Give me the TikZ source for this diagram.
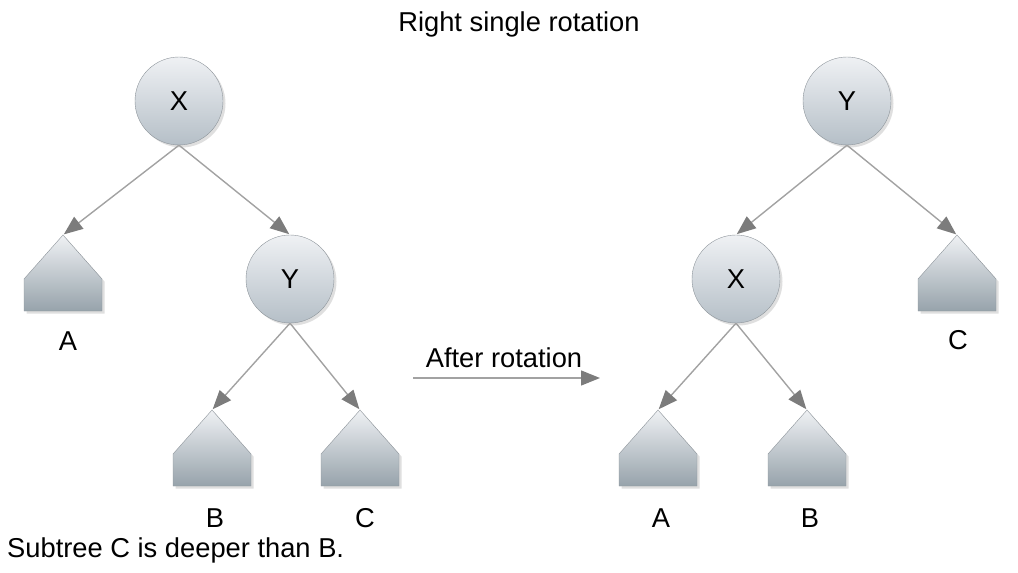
\documentclass[tikz,border=0pt]{standalone}
\usepackage{fontspec}
\setmainfont{Liberation Sans}
\usetikzlibrary{shadows,arrows.meta}

\definecolor{paleTop}{HTML}{EFF1F4}
\definecolor{knotBottom}{HTML}{B5BFC7}
\definecolor{houseBottom}{HTML}{97A3AB}
\definecolor{rim}{HTML}{8E959B}
\definecolor{wire}{HTML}{A2A2A2}
\definecolor{tipgray}{HTML}{7C7C7C}

\tikzset{
    knot/.style={draw=rim, thin, circle, minimum size=88pt, inner sep=0pt,
        top color=paleTop, bottom color=knotBottom,
        drop shadow={opacity=0.25, shadow xshift=2.5pt, shadow yshift=-2.5pt}},
    house/.style={draw=rim, thin, top color=paleTop, bottom color=houseBottom,
        drop shadow={opacity=0.25, shadow xshift=2.5pt, shadow yshift=-2.5pt}},
    link/.style={draw=wire, line width=1.4pt,
        -{Triangle[length=19pt, width=15pt, color=tipgray, fill=tipgray]}, shorten >=1pt},
}

% subtree drawn as a little house, named by its apex
\newcommand\subtree[3]{%
    \shade[house] (#2,#3) -- ++(-39,44) -- ++(0,32) -- ++(78,0) -- ++(0,-32) -- cycle;
    \coordinate (#1) at (#2,#3);
}

\begin{document}
\begin{tikzpicture}[x=1pt, y=-1pt, font=\fontsize{27.3}{31}\selectfont]
    \useasboundingbox (0,0) rectangle (1018,573);

    % Title
    \node at (519,24) (title) {Right single rotation};

    % Nodes for the left tree
    \node at (179,101) (lX) [knot] {X};
    \node at (290,279) (lY) [knot] {Y};
    \subtree{lA}{63}{235}
    \subtree{lB}{212}{410}
    \subtree{lC}{360}{410}
    \node at (68,341) (labLA) {A};
    \node at (215,518) (labLB) {B};
    \node at (365,518) (labLC) {C};

    % Nodes for the right tree
    \node at (847,101) (rY) [knot] {Y};
    \node at (736,279) (rX) [knot] {X};
    \subtree{rA}{658}{410}
    \subtree{rB}{807}{410}
    \subtree{rC}{957}{235}
    \node at (661,518) (labRA) {A};
    \node at (810,518) (labRB) {B};
    \node at (958,340) (labRC) {C};

    % Rotation arrow
    \coordinate (from) at (413,378);
    \coordinate (to) at (601,378);
    \node at (504,358) (after) {After rotation};
    \draw[link] (from) -- (to);

    % Note
    \node at (7,550) (note) [anchor=west, inner sep=0pt] {Subtree C is deeper than B.};

    % Arrows for the left tree
    \draw[link] (lX.south) -- (lA);
    \draw[link] (lX.south) -- (lY.north);
    \draw[link] (lY.south) -- (lB);
    \draw[link] (lY.south) -- (lC);

    % Arrows for the right tree
    \draw[link] (rY.south) -- (rX.north);
    \draw[link] (rY.south) -- (rC);
    \draw[link] (rX.south) -- (rA);
    \draw[link] (rX.south) -- (rB);

\end{tikzpicture}
\end{document}
